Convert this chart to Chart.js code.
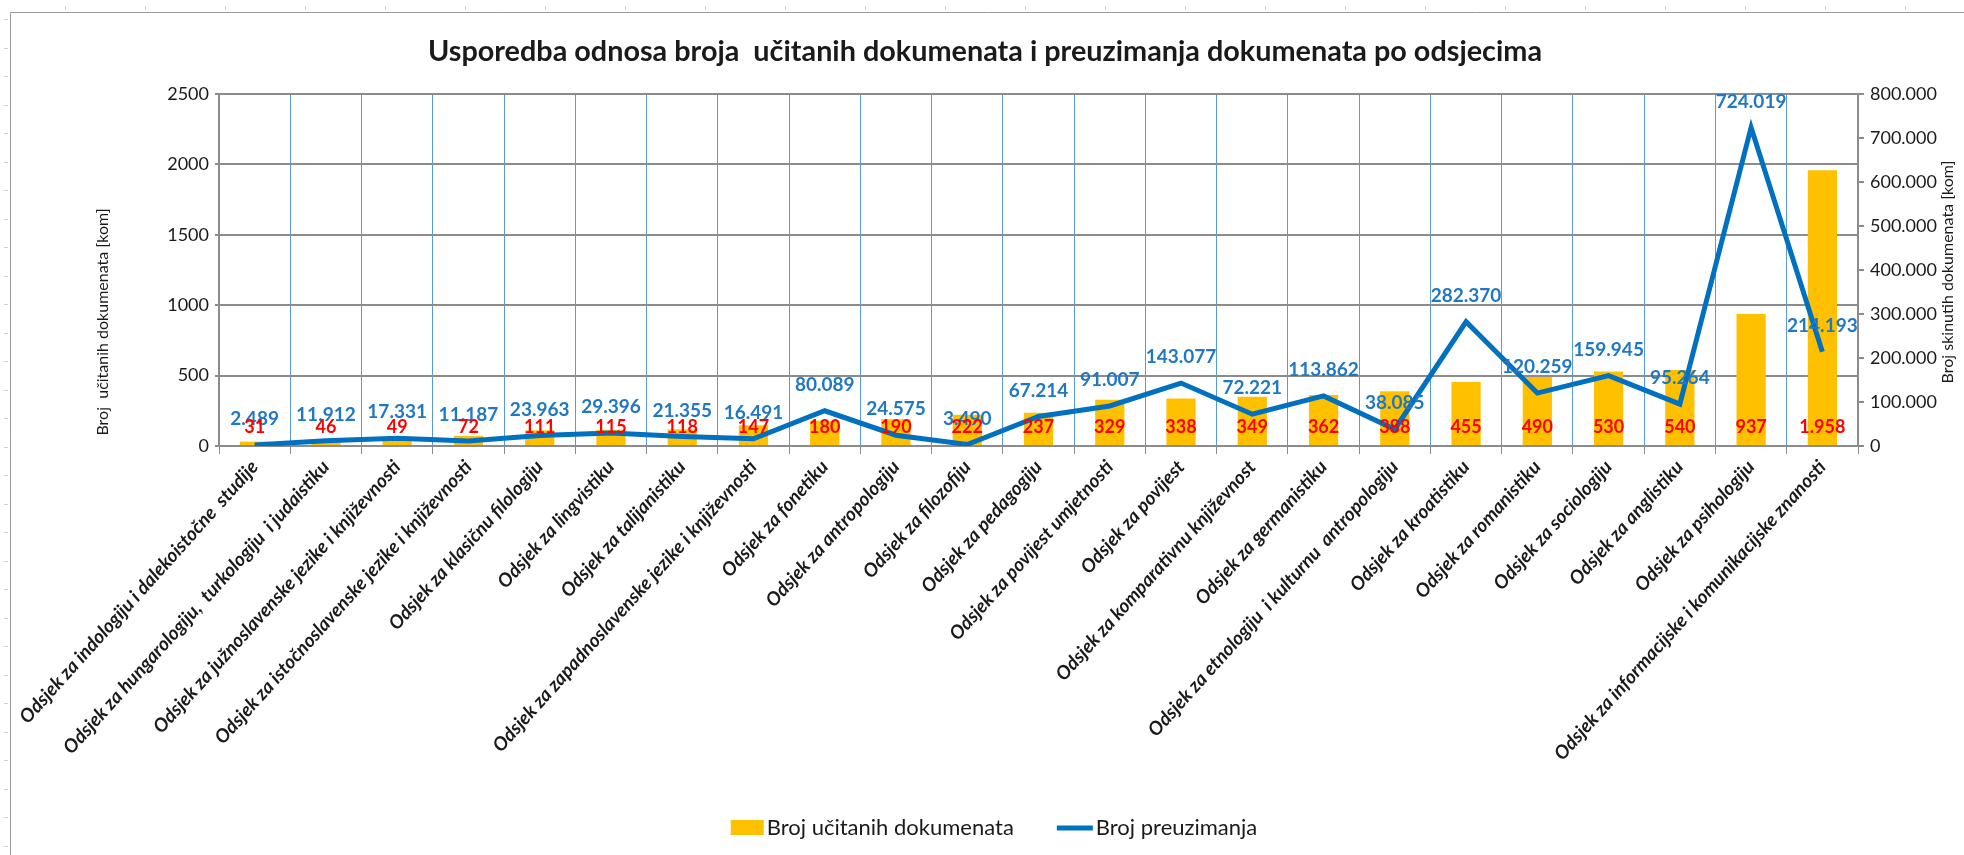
<!DOCTYPE html>
<html>
<head>
<meta charset="utf-8">
<title>Usporedba odnosa broja učitanih dokumenata i preuzimanja dokumenata po odsjecima</title>
<script src="https://cdn.jsdelivr.net/npm/chart.js@4.4.1/dist/chart.umd.min.js"></script>
<style>
  html, body { margin: 0; padding: 0; background: #fff; }
  #wrap { width: 1964px; height: 855px; }
</style>
</head>
<body>
<div id="wrap"><canvas id="chart" width="1964" height="855"></canvas></div>
<script>
// podaci po odsjecima
const odsjeci = [
  "Odsjek za indologiju i dalekoistočne  studije",
  "Odsjek za hungarologiju,  turkologiju  i judaistiku",
  "Odsjek za južnoslavenske jezike i književnosti",
  "Odsjek za istočnoslavenske jezike i književnosti",
  "Odsjek za klasičnu filologiju",
  "Odsjek za lingvistiku",
  "Odsjek za talijanistiku",
  "Odsjek za zapadnoslavenske jezike i književnosti",
  "Odsjek za fonetiku",
  "Odsjek za antropologiju",
  "Odsjek za filozofiju",
  "Odsjek za pedagogiju",
  "Odsjek za povijest umjetnosti",
  "Odsjek za povijest",
  "Odsjek za komparativnu književnost",
  "Odsjek za germanistiku",
  "Odsjek za etnologiju  i kulturnu  antropologiju",
  "Odsjek za kroatistiku",
  "Odsjek za romanistiku",
  "Odsjek za sociologiju",
  "Odsjek za anglistiku",
  "Odsjek za psihologiju",
  "Odsjek za informacijske i komunikacijske znanosti"
];
const ucitani = [31, 46, 49, 72, 111, 115, 118, 147, 180, 190, 222, 237, 329, 338, 349, 362, 388, 455, 490, 530, 540, 937, 1958];
const preuzimanja = [2489, 11912, 17331, 11187, 23963, 29396, 21355, 16491, 80089, 24575, 3490, 67214, 91007, 143077, 72221, 113862, 38085, 282370, 120259, 159945, 95264, 724019, 214193];

const leftMax = 2500, leftStep = 500;
const rightMax = 800000, rightStep = 100000;

const naslov = "Usporedba odnosa broja  učitanih dokumenata i preuzimanja dokumenata po odsjecima";
const lijeviNaslov = "Broj  učitanih dokumenata [kom]";
const desniNaslov = "Broj skinutih dokumenata [kom]";

const BAR_COLOR = "#ffc000";
const LINE_COLOR = "#0070c0";
const GRID_GREY = "#8c8c8c";

function pickFont(list) {
  const c = document.createElement("canvas").getContext("2d");
  const probe = "Odsjek za informacijske 0123456789";
  c.font = "40px monospace";
  const base = c.measureText(probe).width;
  for (const f of list) {
    c.font = "40px '" + f + "', monospace";
    if (c.measureText(probe).width !== base) return "'" + f + "'";
  }
  return "sans-serif";
}
const FONT = pickFont(["Lato", "Roboto"]);
const TITLE_FONT = pickFont(["Liberation Sans Narrow", "Lato", "Roboto"]);

// velicina naslova tako da stane u sirinu kao na originalu
function titleSize() {
  const c = document.createElement("canvas").getContext("2d");
  c.font = "bold 100px " + TITLE_FONT;
  const w = c.measureText(naslov).width;
  return Math.min(34, Math.floor(100 * 1115 / w * 10) / 10);
}

function tocke(n) {
  return String(n).replace(/\B(?=(\d{3})+(?!\d))/g, ".");
}

// okvir i "ravnalo" iz Excela
const okvir = {
  id: "okvir",
  beforeDraw(chart) {
    const ctx = chart.ctx;
    ctx.save();
    ctx.fillStyle = "#fff";
    ctx.fillRect(0, 0, chart.width, chart.height);
    ctx.strokeStyle = "#c9d2de";
    ctx.lineWidth = 1;
    for (let x = 65; x < chart.width; x += 80) {
      ctx.beginPath(); ctx.moveTo(x + 0.5, 6); ctx.lineTo(x + 0.5, 10); ctx.stroke();
    }
    for (let y = 19; y < chart.height; y += 28.5) {
      ctx.beginPath(); ctx.moveTo(4, Math.round(y) + 0.5); ctx.lineTo(8, Math.round(y) + 0.5); ctx.stroke();
    }
    ctx.strokeStyle = "#9a9a9a";
    ctx.beginPath();
    ctx.moveTo(10.5, chart.height);
    ctx.lineTo(10.5, 12.5);
    ctx.lineTo(chart.width, 12.5);
    ctx.stroke();
    ctx.restore();
  }
};

// oznake vrijednosti
const oznake = {
  id: "oznake",
  afterDatasetsDraw(chart) {
    const ctx = chart.ctx;
    const y0 = chart.scales.y.getPixelForValue(0);
    ctx.save();
    ctx.textAlign = "center";
    ctx.textBaseline = "middle";
    chart.data.datasets.forEach((ds, i) => {
      const meta = chart.getDatasetMeta(i);
      meta.data.forEach((el, j) => {
        const txt = tocke(ds.data[j]);
        if (ds.type === "line") {
          ctx.font = "bold 19px " + FONT;
          ctx.fillStyle = "#1f78c4";
          ctx.fillText(txt, el.x, el.y - 26);
        } else {
          ctx.font = "bold 18px " + FONT;
          ctx.fillStyle = "#ff0000";
          ctx.fillText(txt, el.x, y0 - 19);
        }
      });
    });
    ctx.restore();
  }
};

// naslovi osi i legenda
const dodaci = {
  id: "dodaci",
  afterDraw(chart) {
    const ctx = chart.ctx;
    const area = chart.chartArea;
    const midY = (area.top + area.bottom) / 2;
    ctx.save();
    ctx.fillStyle = "#1a1a1a";
    ctx.textAlign = "center";
    ctx.textBaseline = "middle";
    ctx.font = "16px " + FONT;
    ctx.save();
    ctx.translate(area.left - 116, midY + 52);
    ctx.rotate(-Math.PI / 2);
    ctx.fillText(lijeviNaslov, 0, 0);
    ctx.restore();
    ctx.save();
    ctx.translate(area.right + 90, midY + 2);
    ctx.rotate(-Math.PI / 2);
    ctx.fillText(desniNaslov, 0, 0);
    ctx.restore();

    // legenda
    const items = [
      { text: chart.data.datasets[1].label, kind: "box", w: 33 },
      { text: chart.data.datasets[0].label, kind: "line", w: 36 }
    ];
    ctx.font = "22px " + FONT;
    const gapSym = 3, gapItem = 43;
    let total = 0;
    items.forEach((it, k) => {
      it.tw = ctx.measureText(it.text).width;
      total += it.w + gapSym + it.tw + (k ? gapItem : 0);
    });
    let x = chart.width / 2 + 12 - total / 2;
    const ly = 828;
    ctx.textAlign = "left";
    items.forEach((it, k) => {
      if (k) x += gapItem;
      if (it.kind === "box") {
        ctx.fillStyle = BAR_COLOR;
        ctx.fillRect(x, ly - 8, it.w, 15);
      } else {
        ctx.strokeStyle = LINE_COLOR;
        ctx.lineWidth = 5;
        ctx.beginPath(); ctx.moveTo(x, ly); ctx.lineTo(x + it.w, ly); ctx.stroke();
      }
      x += it.w + gapSym;
      ctx.fillStyle = "#1a1a1a";
      ctx.fillText(it.text, x, ly);
      x += it.tw;
    });
    ctx.restore();
  }
};

const ts = titleSize();
const ctx = document.getElementById("chart").getContext("2d");
new Chart(ctx, {
  type: "bar",
  data: {
    labels: odsjeci,
    datasets: [
      {
        type: "line",
        label: "Broj preuzimanja",
        data: preuzimanja,
        yAxisID: "y1",
        borderColor: LINE_COLOR,
        backgroundColor: LINE_COLOR,
        borderWidth: 5,
        pointRadius: 0,
        tension: 0,
        order: 0
      },
      {
        type: "bar",
        label: "Broj učitanih dokumenata",
        data: ucitani,
        yAxisID: "y",
        backgroundColor: BAR_COLOR,
        barPercentage: 0.41,
        categoryPercentage: 1,
        order: 1
      }
    ]
  },
  options: {
    responsive: false,
    animation: false,
    layout: { padding: { left: 10, right: 4, top: 0, bottom: 64 } },
    plugins: {
      legend: { display: false },
      tooltip: { enabled: false },
      title: {
        display: true,
        text: naslov,
        color: "#1a1a1a",
        font: { family: TITLE_FONT, size: ts, weight: "bold" },
        padding: { top: 52 - ts * 0.6, bottom: 94 - 52 - ts * 0.6 }
      }
    },
    scales: {
      x: {
        offset: true,
        grid: { color: "#5b9bd5", lineWidth: 1, tickColor: GRID_GREY, tickLength: 8, offset: true },
        border: { color: GRID_GREY, width: 2 },
        ticks: {
          autoSkip: false,
          minRotation: 48,
          maxRotation: 48,
          padding: 2,
          color: "#1a1a1a",
          font: { family: FONT, size: 19, weight: "bold", style: "italic" }
        },
        afterFit(scale) { scale.height = 345; }
      },
      y: {
        position: "left",
        min: 0,
        max: leftMax,
        ticks: { stepSize: leftStep, color: "#1a1a1a", padding: 6, font: { family: FONT, size: 18 }, callback: v => String(v) },
        grid: { color: GRID_GREY, lineWidth: 2, tickLength: 4 },
        border: { color: GRID_GREY, width: 2 },
        afterFit(scale) { scale.width = 209; }
      },
      y1: {
        position: "right",
        min: 0,
        max: rightMax,
        ticks: { stepSize: rightStep, color: "#1a1a1a", padding: 6, font: { family: FONT, size: 18 }, callback: v => tocke(v) },
        grid: { drawOnChartArea: false, color: GRID_GREY, lineWidth: 2, tickLength: 6 },
        border: { color: GRID_GREY, width: 2 },
        afterFit(scale) { scale.width = 102; }
      }
    }
  },
  plugins: [okvir, oznake, dodaci]
});
</script>
</body>
</html>
